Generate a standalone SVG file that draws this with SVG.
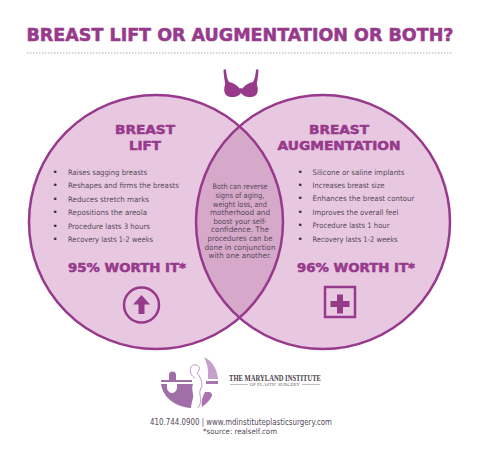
<svg xmlns="http://www.w3.org/2000/svg" width="480" height="456" viewBox="0 0 480 456">
<style>
.h{font-family:"DejaVu Sans",sans-serif;font-weight:700;fill:#973a8c;stroke:#973a8c;stroke-width:.55}
.b{font-family:"DejaVu Sans",sans-serif;font-size:7.500px;fill:#564859}
.c{font-family:"DejaVu Sans",sans-serif;font-size:7.500px;fill:#564859;text-anchor:middle}
.u{fill:#3a2f3c;font-size:9px}
.p{fill:#973a8c}
.o{fill:none;stroke:#973a8c;stroke-width:2.500}
</style>
<defs>
<clipPath id="lc"><circle cx="156" cy="222" r="127"/></clipPath>
</defs>
<rect width="480" height="456" fill="#fff"/>
<text id="title" class="h" x="26.500" y="40.500" font-size="17.800" textLength="427" lengthAdjust="spacingAndGlyphs">BREAST LIFT OR AUGMENTATION OR BOTH?</text>
<line x1="27" y1="53" x2="453" y2="53" stroke="#d8d3d9" stroke-width="2" stroke-dasharray="1.500 1.500"/>
<g id="bra-icon">
<path class="p" d="M223.500 70C224 69 225.500 68.800 226 70C226.500 74 227 79 229 82C233 82.500 237 85 239.500 88.500C240.500 88 241.500 88 242.500 88.500C245 85 249 82.500 253 82C255 79 255.500 74 256 70C256.500 68.800 258 69 258.500 70C258.300 75 257.500 80 256.800 84C258.200 88 258.200 92 256.500 94.500C254 97.500 248 97.800 244.500 96C243 95.200 242 94.200 241 93C240 94.200 239 95.200 237.500 96C234 97.800 228 97.500 225.500 94.500C223.800 92 223.800 88 225.200 84C224.500 80 223.700 75 223.500 70Z"/>
</g>
<g id="connectors">
<circle cx="156" cy="222" r="127" fill="#e8c8e0"/>
<circle cx="323" cy="222" r="127" fill="#e8c8e0"/>
<circle cx="323" cy="222" r="127" fill="#d6a8ca" clip-path="url(#lc)"/>
<circle class="o" cx="156" cy="222" r="127"/>
<circle class="o" cx="323" cy="222" r="127"/>
</g>
<g id="node-lift">
<text class="h" x="145" y="133.500" font-size="12.800" text-anchor="middle" textLength="60" lengthAdjust="spacingAndGlyphs">BREAST</text>
<text class="h" x="145" y="149.500" font-size="12.800" text-anchor="middle" textLength="32" lengthAdjust="spacingAndGlyphs">LIFT</text>
<g class="b">
<text class="u" x="52.500" y="175">•</text><text x="68" y="175" textLength="79" lengthAdjust="spacingAndGlyphs">Raises sagging breasts</text>
<text class="u" x="52.500" y="188.300">•</text><text x="68" y="188.300" textLength="111" lengthAdjust="spacingAndGlyphs">Reshapes and firms the breasts</text>
<text class="u" x="52.500" y="201.700">•</text><text x="68" y="201.700" textLength="81" lengthAdjust="spacingAndGlyphs">Reduces stretch marks</text>
<text class="u" x="52.500" y="215">•</text><text x="68" y="215" textLength="79" lengthAdjust="spacingAndGlyphs">Repositions the areola</text>
<text class="u" x="52.500" y="228.500">•</text><text x="68" y="228.500" textLength="82" lengthAdjust="spacingAndGlyphs">Procedure lasts 3 hours</text>
<text class="u" x="52.500" y="242">•</text><text x="68" y="242" textLength="85" lengthAdjust="spacingAndGlyphs">Recovery lasts 1-2 weeks</text>
</g>
<text class="h" x="68" y="272" font-size="12.800" textLength="118" lengthAdjust="spacingAndGlyphs">95% WORTH IT*</text>
<circle cx="141.500" cy="305" r="17.500" fill="none" stroke="#973a8c" stroke-width="2.500"/>
<path class="p" d="M141.500 295l8.500 9.500h-5.500v9.500h-6v-9.500h-5.500z"/>
</g>
<g id="node-both">
<text class="c" x="240" y="189.300" textLength="55" lengthAdjust="spacingAndGlyphs">Both can reverse</text>
<text class="c" x="240" y="198" textLength="49" lengthAdjust="spacingAndGlyphs">signs of aging,</text>
<text class="c" x="240" y="206.600" textLength="54" lengthAdjust="spacingAndGlyphs">weight loss, and</text>
<text class="c" x="240" y="215.200" textLength="60" lengthAdjust="spacingAndGlyphs">motherhood and</text>
<text class="c" x="240" y="223.800" textLength="53" lengthAdjust="spacingAndGlyphs">boost your self-</text>
<text class="c" x="240" y="232.400" textLength="58" lengthAdjust="spacingAndGlyphs">confidence. The</text>
<text class="c" x="240" y="241" textLength="65" lengthAdjust="spacingAndGlyphs">procedures can be</text>
<text class="c" x="240" y="249.700" textLength="71" lengthAdjust="spacingAndGlyphs">done in conjunction</text>
<text class="c" x="240" y="258.300" textLength="63" lengthAdjust="spacingAndGlyphs">with one another.</text>
</g>
<g id="node-aug">
<text class="h" x="339" y="133.500" font-size="12.800" text-anchor="middle" textLength="60" lengthAdjust="spacingAndGlyphs">BREAST</text>
<text class="h" x="339" y="149.500" font-size="12.800" text-anchor="middle" textLength="123" lengthAdjust="spacingAndGlyphs">AUGMENTATION</text>
<g class="b">
<text class="u" x="297.500" y="174.500">•</text><text x="312.500" y="174.500" textLength="92" lengthAdjust="spacingAndGlyphs">Silicone or saline implants</text>
<text class="u" x="297.500" y="188">•</text><text x="312.500" y="188" textLength="72" lengthAdjust="spacingAndGlyphs">Increases breast size</text>
<text class="u" x="297.500" y="201.400">•</text><text x="312.500" y="201.400" textLength="102" lengthAdjust="spacingAndGlyphs">Enhances the breast contour</text>
<text class="u" x="297.500" y="214.800">•</text><text x="312.500" y="214.800" textLength="86" lengthAdjust="spacingAndGlyphs">Improves the overall feel</text>
<text class="u" x="297.500" y="228.200">•</text><text x="312.500" y="228.200" textLength="77" lengthAdjust="spacingAndGlyphs">Procedure lasts 1 hour</text>
<text class="u" x="297.500" y="241.500">•</text><text x="312.500" y="241.500" textLength="85" lengthAdjust="spacingAndGlyphs">Recovery lasts 1-2 weeks</text>
</g>
<text class="h" x="297" y="272" font-size="12.800" textLength="118" lengthAdjust="spacingAndGlyphs">96% WORTH IT*</text>
<rect x="325" y="287" width="30" height="30" fill="none" stroke="#973a8c" stroke-width="2.500"/>
<path class="p" d="M337 294.500h6v6.500h6.500v6h-6.500v6.500h-6v-6.500h-6.500v-6h6.500z"/>
</g>
<g id="logo">
<path fill="#a06fa8" d="M161 380h8v-5a3.500 3.500 0 0 1 7 0v5h16v2h-31zM161 384h6v3c0 4 3 6 5 6s5-2 5-6v-3h16c-2 5 1 10 0 14-1 4-2 7-2 10-15-1-28-10-30-24z"/>
<path fill="#c6a0ca" d="M204 357c8 4 13 11 14 22h-10v-7c0-5-2-11-4-15z"/>
<path fill="#a873ae" d="M206 381h12v3h-12zM205 392h4a3.500 3.500 0 0 1 3 4c-2 4-6 8-10 11-1-5 0-10 3-15z"/>
<path fill="none" stroke="#b98cc0" stroke-width=".9" d="M195 378c-4-2-6-7-4-11 2-3 6-3 8 0 1 2 0 4-2 6 3 3 5 8 5 12-1 4-3 6-2 10 1 4 1 9-2 13"/>
<text x="275" y="381" font-family="Liberation Serif,serif" font-weight="700" font-size="7.500" fill="#4a4048" text-anchor="middle" textLength="92" lengthAdjust="spacingAndGlyphs">THE MARYLAND INSTITUTE</text>
<text x="275" y="386" font-family="Liberation Serif,serif" font-size="3.800" fill="#6a6068" text-anchor="middle" textLength="50" lengthAdjust="spacingAndGlyphs">OF PLASTIC SURGERY</text>
<path stroke="#9a949a" stroke-width=".6" d="M230 384.500h18M302 384.500h18"/>
</g>
<g id="footer">
<text class="c" x="241" y="425" style="font-size:8.200px" textLength="182" lengthAdjust="spacingAndGlyphs">410.744.0900 | www.mdinstituteplasticsurgery.com</text>
<text class="c" x="240" y="433.500" style="font-size:7.500px" textLength="74" lengthAdjust="spacingAndGlyphs">*source: realself.com</text>
</g>
</svg>
